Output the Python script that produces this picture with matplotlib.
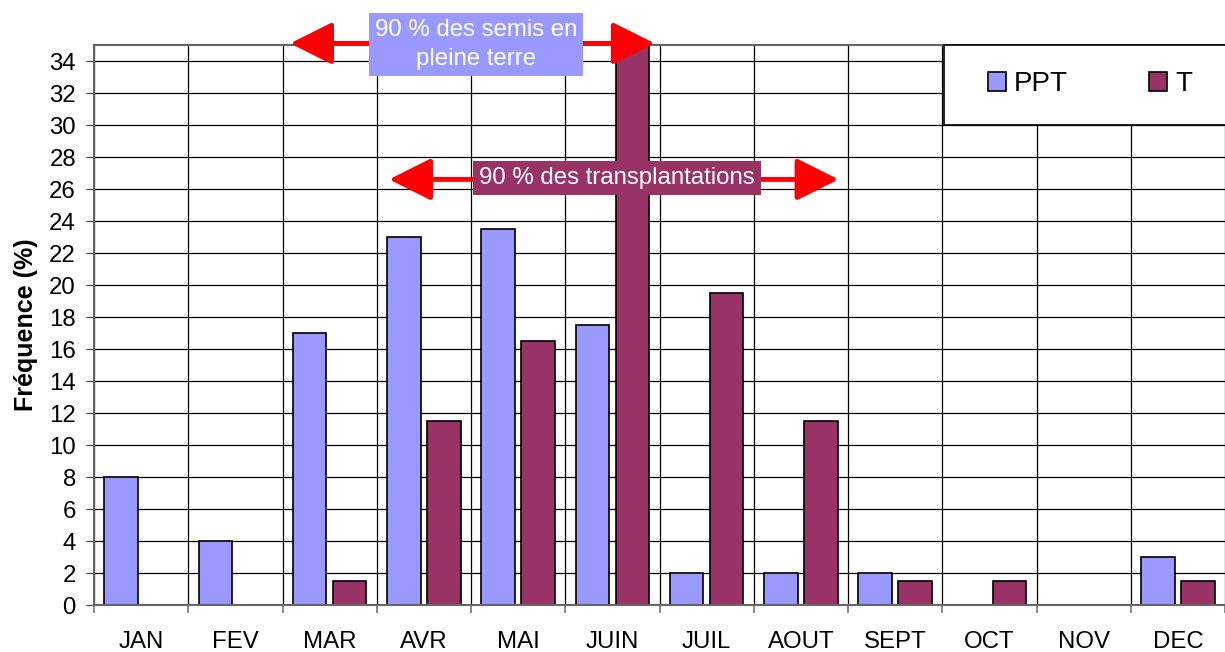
import matplotlib
matplotlib.use("Agg")
import matplotlib.pyplot as plt
from matplotlib.patches import Rectangle, Patch
import numpy as np

plt.rcParams['font.family'] = ['Liberation Sans', 'DejaVu Sans']

months = ["JAN", "FEV", "MAR", "AVR", "MAI", "JUIN", "JUIL", "AOUT", "SEPT", "OCT", "NOV", "DEC"]
ppt = [8, 4, 17, 23, 23.5, 17.5, 2, 2, 2, 0, 0, 3]
t = [0, 0, 1.5, 11.5, 16.5, 35, 19.5, 11.5, 1.5, 1.5, 0, 1.5]
yticks = list(range(0, 36, 2))

ppt_color = "#9999FF"
t_color = "#993366"

W, H = 1225, 652
fig = plt.figure(figsize=(W / 100, H / 100), dpi=100)
ax = fig.add_axes([94 / W, (H - 605) / H, 1131 / W, 560 / H])

x = np.arange(len(months))
bw = 0.355
off = 0.213
ax.bar(x - off, ppt, width=bw, color=ppt_color, edgecolor="black", linewidth=1.2, zorder=2)
ax.bar(x + off, t, width=bw, color=t_color, edgecolor="black", linewidth=1.2, zorder=2)

ax.set_xlim(-0.5, len(months) - 0.5)
ax.set_ylim(0, 35)
ax.set_yticks(yticks)
ax.set_xticks(x)
ax.set_xticklabels(months)
ax.set_xticks(np.arange(len(months) + 1) - 0.5, minor=True)

ax.set_axisbelow(True)
ax.grid(axis="y", which="major", color="black", linewidth=0.9)
ax.grid(axis="x", which="minor", color="black", linewidth=0.9)
ax.grid(axis="x", which="major", visible=False)

ax.tick_params(axis="y", which="major", direction="out", length=6, width=1, pad=7,
               labelsize=17.3, color="#555555")
ax.tick_params(axis="x", which="major", length=0, pad=19, labelsize=17.3)
ax.tick_params(axis="x", which="minor", direction="out", length=6, width=1.2, color="#777777")

for s in ["left", "bottom", "top"]:
    ax.spines[s].set_color("#666666")
    ax.spines[s].set_linewidth(1.5)
ax.spines["right"].set_visible(False)

ax.set_ylabel("Fréquence (%)", fontsize=18, fontweight="bold", labelpad=8)

# period arrows with their captions
arrow_kw = dict(arrowstyle="<|-|>,head_length=26,head_width=13", color="#FF0000",
                lw=3.5, mutation_scale=1, shrinkA=0, shrinkB=0)
ax.annotate("", xy=(1.58, 35.1), xytext=(5.45, 35.1), arrowprops=arrow_kw,
            annotation_clip=False, zorder=6)
ax.annotate("", xy=(2.63, 26.6), xytext=(7.40, 26.6), arrowprops=arrow_kw,
            annotation_clip=False, zorder=6)

ax.text(3.55, 35.03, "90 % des semis en\npleine terre", ha="center", va="center",
        color="white", fontsize=17.3, linespacing=1.4, zorder=7, clip_on=False,
        bbox=dict(boxstyle="square,pad=0.25", facecolor=ppt_color, edgecolor="none"))
ax.text(5.05, 26.67, "90 % des transplantations", ha="center", va="center",
        color="white", fontsize=17.3, zorder=7,
        bbox=dict(boxstyle="square,pad=0.25", facecolor=t_color, edgecolor="none"))

# legend box
box = Rectangle((944 / W, (H - 125) / H), (W - 944 + 5) / W, 80 / H, transform=fig.transFigure,
                facecolor="white", edgecolor="black", linewidth=1.2, zorder=8, clip_on=False)
ax.add_patch(box)
handles = [Patch(facecolor=ppt_color, edgecolor="black", linewidth=1.2, label="PPT"),
           Patch(facecolor=t_color, edgecolor="black", linewidth=1.2, label="T")]
leg = ax.legend(handles=handles, loc="center", bbox_to_anchor=(1090 / W, (H - 84) / H),
                bbox_transform=fig.transFigure, ncol=2, frameon=False, fontsize=20,
                handlelength=0.65, handleheight=0.65, handletextpad=0.3, columnspacing=2.9,
                borderpad=0)
leg.set_zorder(9)

fig.savefig("out.png", dpi=100)
